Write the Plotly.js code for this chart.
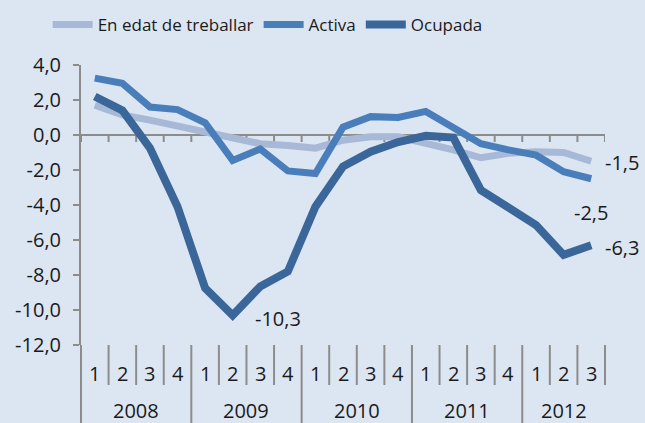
<!DOCTYPE html>
<html>
<head>
<meta charset="utf-8">
<script src="https://cdn.plot.ly/plotly-3.0.1.min.js"></script>
<style>html,body{margin:0;padding:0;background:#DCE6F2;}#chart{width:645px;height:423px;}</style>
</head>
<body>
<div id="chart"></div>
<script>
// ---- data ----
const years = ['2008', '2009', '2010', '2011', '2012'];
const quarterLabels = ['1','2','3','4','1','2','3','4','1','2','3','4','1','2','3','4','1','2','3'];
const yearOfPoint = ['2008','2008','2008','2008','2009','2009','2009','2009','2010','2010','2010','2010','2011','2011','2011','2011','2012','2012','2012'];
const categories = quarterLabels.map((q, i) => yearOfPoint[i] + '-' + q);
const seriesNames = ['En edat de treballar', 'Activa', 'Ocupada'];
const edat = [1.7, 1.15, 0.85, 0.5, 0.15, -0.25, -0.5, -0.6, -0.75, -0.3, -0.1, -0.1, -0.45, -0.85, -1.3, -1.05, -0.95, -1.0, -1.5];
const activa = [3.25, 2.95, 1.6, 1.45, 0.7, -1.45, -0.8, -2.05, -2.2, 0.45, 1.05, 1.0, 1.35, 0.4, -0.5, -0.85, -1.15, -2.1, -2.5];
const ocupada = [2.2, 1.4, -0.75, -4.1, -8.75, -10.3, -8.65, -7.8, -4.1, -1.8, -0.95, -0.4, -0.05, -0.15, -3.15, -4.1, -5.15, -6.85, -6.3];
const yTicks = [-12, -10, -8, -6, -4, -2, 0, 2, 4];

// ---- styles ----
const colors = ['#A7B9D6', '#4A7EBB', '#3B6699'];
const widths = [7, 7, 8];
const axisGray = '#8C8C8C';
const fontFamily = 'Open Sans, Lato, sans-serif';
const fmt = v => v.toFixed(1).replace('.', ',');

const idx = categories.map((c, i) => i);
const allSeries = [edat, activa, ocupada];
const traces = allSeries.map((vals, k) => ({
  type: 'scatter', mode: 'lines', name: seriesNames[k],
  x: idx, y: vals,
  line: {color: colors[k], width: widths[k]},
  hoverinfo: 'skip'
}));

const n = categories.length;
const plotH = 280;
const shapes = [];
// zero axis line
shapes.push({type: 'line', layer: 'below', xref: 'x', yref: 'y', x0: -0.5, x1: n - 0.5, y0: 0, y1: 0,
  line: {color: axisGray, width: 2}});
// ticks on zero line and separators below plot
for (let b = 0; b <= n; b++) {
  const xb = b - 0.5;
  shapes.push({type: 'line', layer: 'below', xref: 'x', yref: 'y', ysizemode: 'pixel', yanchor: 0,
    x0: xb, x1: xb, y0: 0, y1: -7, line: {color: axisGray, width: 2}});
  if (b === 0 || b === n) continue;
  const yearBoundary = yearOfPoint[b] !== yearOfPoint[b - 1];
  shapes.push({type: 'line', xref: 'x', yref: 'paper', x0: xb, x1: xb,
    y0: 0, y1: yearBoundary ? -80 / plotH : -40 / plotH, line: {color: axisGray, width: 2}});
}
// left and right boundaries
shapes.push({type: 'line', xref: 'paper', yref: 'paper', x0: 0, x1: 0, y0: 0, y1: -80 / plotH, line: {color: axisGray, width: 2}});
shapes.push({type: 'line', xref: 'paper', yref: 'paper', x0: 1, x1: 1, y0: 0, y1: -40 / plotH, line: {color: axisGray, width: 2}});

const textSize = 20;
const annotations = [];
quarterLabels.forEach((q, i) => {
  annotations.push({xref: 'x', yref: 'paper', x: i, y: -28 / plotH, text: q, showarrow: false,
    yanchor: 'middle', font: {size: textSize, color: '#1a1a1a', family: fontFamily}});
});
years.forEach(yr => {
  const members = idx.filter(i => yearOfPoint[i] === yr);
  const mid = (members[0] + members[members.length - 1]) / 2;
  annotations.push({xref: 'x', yref: 'paper', x: mid, y: -65 / plotH, text: yr, showarrow: false,
    yanchor: 'middle', font: {size: textSize, color: '#1a1a1a', family: fontFamily}});
});
// data labels
const last = n - 1;
const minIdx = ocupada.indexOf(Math.min(...ocupada));
const labelFont = {size: textSize, color: '#1a1a1a', family: fontFamily};
annotations.push({xref: 'x', yref: 'y', x: last, y: edat[last], text: fmt(edat[last]), showarrow: false, xanchor: 'left', xshift: 12, yshift: -1, font: labelFont});
annotations.push({xref: 'x', yref: 'y', x: last, y: activa[last], text: fmt(activa[last]), showarrow: false, xanchor: 'center', yshift: -34, font: labelFont});
annotations.push({xref: 'x', yref: 'y', x: last, y: ocupada[last], text: fmt(ocupada[last]), showarrow: false, xanchor: 'left', xshift: 12, yshift: -2, font: labelFont});
annotations.push({xref: 'x', yref: 'y', x: minIdx, y: ocupada[minIdx], text: fmt(ocupada[minIdx]), showarrow: false, xanchor: 'left', xshift: 20, yshift: -3, font: labelFont});

const layout = {
  width: 645, height: 423,
  paper_bgcolor: '#DCE6F2', plot_bgcolor: '#DCE6F2',
  margin: {l: 81, r: 40, t: 65, b: 78},
  separators: ',.',
  font: {family: fontFamily, color: '#1a1a1a', size: textSize},
  showlegend: true,
  legend: {orientation: 'h', xref: 'container', yref: 'container', x: 0.415, xanchor: 'center', y: 1 - 25 / 423, yanchor: 'middle',
    font: {size: 17, family: fontFamily, color: '#1a1a1a'}, bgcolor: 'rgba(0,0,0,0)', itemwidth: 40, tracegroupgap: 0},
  xaxis: {type: 'linear', range: [-0.5, n - 0.5], showticklabels: false, ticks: '', showgrid: false, zeroline: false, showline: false, fixedrange: true},
  yaxis: {range: [-12, 4], tickvals: yTicks, ticktext: yTicks.map(fmt), ticks: 'outside', ticklen: 6, tickwidth: 2, tickcolor: axisGray,
    showline: true, linecolor: axisGray, linewidth: 2, showgrid: false, zeroline: false, ticklabelstandoff: 8,
    tickfont: {size: textSize, family: fontFamily, color: '#1a1a1a'}, fixedrange: true},
  shapes: shapes,
  annotations: annotations
};

Plotly.newPlot('chart', traces, layout, {displayModeBar: false, staticPlot: true});
</script>
</body>
</html>
